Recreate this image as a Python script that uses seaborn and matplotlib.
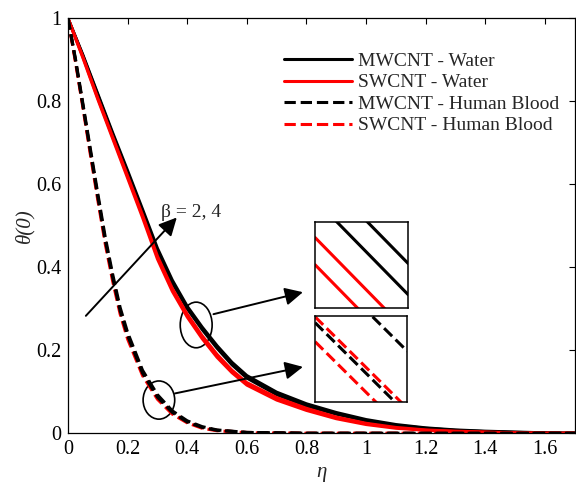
import matplotlib
matplotlib.use("Agg")
import matplotlib.pyplot as plt
import seaborn as sns
from matplotlib.patches import Ellipse
from matplotlib.ticker import FormatStrFormatter

# temperature profiles theta(eta) (beta = 2 and beta = 4)
eta_water = [0, 0.05, 0.1, 0.15, 0.2, 0.25, 0.3, 0.35, 0.4, 0.45, 0.5, 0.55, 0.6,
             0.7, 0.8, 0.9, 1.0, 1.1, 1.2, 1.3, 1.4, 1.5, 1.6, 1.7]
mw_water_b2 = [1.0, 0.91, 0.815, 0.72, 0.628, 0.535, 0.44, 0.362, 0.3, 0.25, 0.205, 0.165, 0.133,
               0.093, 0.066, 0.046, 0.03, 0.019, 0.012, 0.007, 0.004, 0.002, 0.001, 0.0]
mw_water_b4 = [1.0, 0.912, 0.818, 0.724, 0.633, 0.54, 0.446, 0.369, 0.306, 0.256, 0.211, 0.171, 0.139,
               0.099, 0.071, 0.05, 0.033, 0.021, 0.013, 0.008, 0.005, 0.003, 0.001, 0.0]
sw_water_b2 = [1.0, 0.905, 0.805, 0.71, 0.615, 0.52, 0.42, 0.342, 0.28, 0.228, 0.183, 0.146, 0.116,
               0.08, 0.055, 0.035, 0.021, 0.012, 0.007, 0.004, 0.002, 0.001, 0.0, 0.0]
sw_water_b4 = [1.0, 0.907, 0.808, 0.714, 0.62, 0.526, 0.427, 0.349, 0.287, 0.235, 0.19, 0.152, 0.122,
               0.086, 0.06, 0.039, 0.024, 0.014, 0.008, 0.005, 0.003, 0.001, 0.0, 0.0]

eta_blood = [0, 0.025, 0.05, 0.075, 0.1, 0.125, 0.15, 0.175, 0.2, 0.25, 0.3, 0.35, 0.4, 0.45,
             0.5, 0.6, 0.8, 1.0, 1.2, 1.4, 1.7]
mw_blood_b2 = [1.0, 0.9, 0.79, 0.68, 0.57, 0.465, 0.375, 0.295, 0.235, 0.145, 0.087, 0.05, 0.027,
               0.014, 0.007, 0.002, 0.0, 0.0, 0.0, 0.0, 0.0]
mw_blood_b4 = [1.0, 0.903, 0.795, 0.686, 0.578, 0.473, 0.383, 0.303, 0.243, 0.152, 0.093, 0.054, 0.03,
               0.016, 0.008, 0.002, 0.0, 0.0, 0.0, 0.0, 0.0]
sw_blood_b2 = [1.0, 0.895, 0.785, 0.672, 0.562, 0.456, 0.366, 0.287, 0.227, 0.139, 0.082, 0.046, 0.025,
               0.012, 0.006, 0.001, 0.0, 0.0, 0.0, 0.0, 0.0]
sw_blood_b4 = [1.0, 0.898, 0.79, 0.678, 0.57, 0.464, 0.374, 0.295, 0.235, 0.146, 0.088, 0.05, 0.028,
               0.014, 0.007, 0.002, 0.0, 0.0, 0.0, 0.0, 0.0]

labels = ["MWCNT - Water", "SWCNT - Water", "MWCNT - Human Blood", "SWCNT - Human Blood"]
x_ticks = [0, 0.2, 0.4, 0.6, 0.8, 1.0, 1.2, 1.4, 1.6]
y_ticks = [0, 0.2, 0.4, 0.6, 0.8, 1.0]

# schematic zoom boxes: intercepts of the parallel lines (box units)
inset_black_solid = [1.254, 1.615]
inset_red_solid = [0.815, 0.5]
inset_black_dashed = [1.65, 0.92]
inset_red_dashed = [0.988, 0.70]

sns.set_style("white")
plt.rcParams["font.family"] = ["Liberation Serif", "DejaVu Serif"]

fig = plt.figure(figsize=(5.76, 4.83), dpi=100)
ax = fig.add_axes([0.118, 0.103, 0.880, 0.859])

LW = 2.2
series = [
    (eta_water, mw_water_b2, mw_water_b4, "black", "-", labels[0]),
    (eta_water, sw_water_b2, sw_water_b4, "red", "-", labels[1]),
    (eta_blood, sw_blood_b2, sw_blood_b4, "red", "--", labels[3]),
    (eta_blood, mw_blood_b2, mw_blood_b4, "black", "--", labels[2]),
]
handles = {}
for x, y2, y4, col, ls, lab in series:
    sns.lineplot(x=x, y=y2, ax=ax, color=col, linestyle=ls, lw=LW)
    sns.lineplot(x=x, y=y4, ax=ax, color=col, linestyle=ls, lw=LW)
    handles[lab] = ax.lines[-1]

ax.set_xlim(0, 1.7)
ax.set_ylim(0, 1)
ax.set_xticks(x_ticks)
ax.set_yticks(y_ticks)
ax.xaxis.set_major_formatter(FormatStrFormatter("%g"))
ax.yaxis.set_major_formatter(FormatStrFormatter("%g"))
ax.tick_params(direction="in", top=True, right=True, length=4, width=0.8,
               labelsize=14.6, colors="black", pad=5)
for sp in ax.spines.values():
    sp.set_color("black")
    sp.set_linewidth(0.9)
ax.set_xlabel("η", fontsize=15, style="italic", labelpad=3)
ax.set_ylabel("θ(0)", fontsize=15, style="italic", labelpad=1)

ax.legend([handles[l] for l in labels], labels, loc="upper left",
          bbox_to_anchor=(0.426, 0.918), frameon=False, fontsize=14,
          handlelength=3.5, handletextpad=0.3, labelspacing=0.2,
          borderpad=0, borderaxespad=0)

# annotations
arrow = dict(arrowstyle="-|>,head_length=0.6,head_width=0.3", color="black",
             lw=1.4, mutation_scale=18, shrinkA=0, shrinkB=0)
ax.annotate("", xy=(0.365, 0.52), xytext=(0.06, 0.283), arrowprops=arrow)
ax.text(0.413, 0.531, "β = 2, 4", fontsize=14, ha="center", va="center")
ax.add_patch(Ellipse((0.43, 0.261), 0.107, 0.11, fill=False, color="black", lw=1.2))
ax.add_patch(Ellipse((0.305, 0.08), 0.106, 0.092, fill=False, color="black", lw=1.2))
ax.annotate("", xy=(0.788, 0.34), xytext=(0.488, 0.287), arrowprops=arrow)
ax.annotate("", xy=(0.788, 0.16), xytext=(0.359, 0.096), arrowprops=arrow)

# zoom boxes
box1 = ax.inset_axes([0.829, 0.302, 0.312, 0.208], transform=ax.transData)
box2 = ax.inset_axes([0.829, 0.075, 0.309, 0.208], transform=ax.transData)
xs = [0, 1]
for c in inset_black_solid:
    box1.plot(xs, [c, c - 1.1], color="black", lw=LW)
for c in inset_red_solid:
    box1.plot(xs, [c, c - 1.1], color="red", lw=LW)
for c in inset_red_dashed:
    box2.plot(xs, [c, c - 1.06], color="red", lw=LW, ls="--")
for c in inset_black_dashed:
    box2.plot(xs, [c, c - 1.06], color="black", lw=LW, ls="--")
for b in (box1, box2):
    b.set_xlim(0, 1)
    b.set_ylim(0, 1)
    b.set_xticks([])
    b.set_yticks([])
    for sp in b.spines.values():
        sp.set_color("black")
        sp.set_linewidth(1.1)

fig.savefig("out.png", dpi=100)
